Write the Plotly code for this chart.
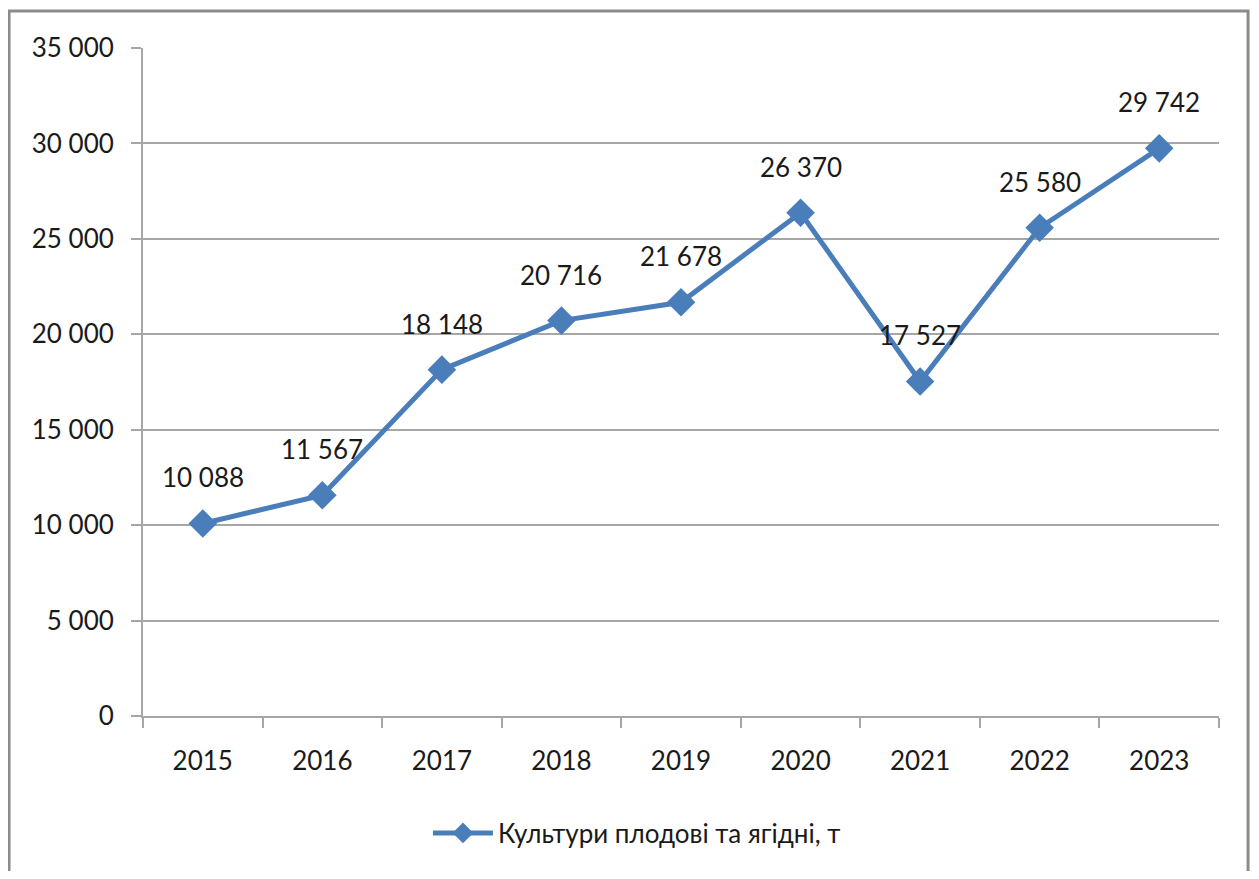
import plotly.graph_objects as go

years = ['2015', '2016', '2017', '2018', '2019', '2020', '2021', '2022', '2023']
values = [10088, 11567, 18148, 20716, 21678, 26370, 17527, 25580, 29742]
y_ticks = [0, 5000, 10000, 15000, 20000, 25000, 30000, 35000]
series_name = 'Культури плодові та ягідні, т'

BLUE = '#4A7EBB'
GRID = '#a6a6a6'
TEXT = '#1a1a1a'
FONT = 'Lato'


def fmt(v):
    # thousands separated with a space, like the source
    return f'{v:,}'.replace(',', ' ')


fig = go.Figure()
fig.add_trace(go.Scatter(
    x=years,
    y=values,
    mode='lines+markers',
    name=series_name,
    line=dict(color=BLUE, width=5),
    marker=dict(symbol='diamond', size=22, color=BLUE),
))

# value labels above each point (category index on the x axis)
for i, v in enumerate(values):
    fig.add_annotation(
        x=i, y=v, text=fmt(v), showarrow=False,
        yshift=46, font=dict(size=26, color=TEXT, family=FONT),
    )

# outer chart border
fig.add_shape(
    type='rect', xref='paper', yref='paper',
    x0=-0.1245, x1=1.0270, y0=-0.2425, y1=1.0554,
    line=dict(color='#8c8c8c', width=3), layer='below',
)

# the page body adds an 8px margin all round, so keep the figure inside it
fig.update_layout(
    width=1243, height=863,
    paper_bgcolor='white', plot_bgcolor='white',
    font=dict(family=FONT, size=26, color=TEXT),
    margin=dict(l=135, r=32, t=40, b=155),
    showlegend=True,
    legend=dict(
        orientation='h', xref='container', yref='container',
        x=0.506, y=0.044, xanchor='center', yanchor='middle',
        font=dict(size=26, color=TEXT, family=FONT),
        itemwidth=60,
    ),
    xaxis=dict(
        type='category',
        categoryorder='array', categoryarray=years,
        range=[-0.5, len(years) - 0.5],
        showline=True, linecolor=GRID, linewidth=2,
        showgrid=False,
        ticks='outside', ticklen=10, tickcolor=GRID, tickwidth=2,
        tickson='boundaries',
        ticklabelstandoff=21,
        tickangle=0,
        tickfont=dict(size=26, color=TEXT, family=FONT),
    ),
    yaxis=dict(
        range=[0, 35000],
        tickvals=y_ticks,
        ticktext=[fmt(t) for t in y_ticks],
        showline=True, linecolor=GRID, linewidth=2,
        showgrid=True, gridcolor=GRID, gridwidth=2,
        zeroline=False,
        ticks='outside', ticklen=10, tickcolor=GRID, tickwidth=2,
        ticklabelstandoff=12,
        tickfont=dict(size=26, color=TEXT, family=FONT),
    ),
)

fig.write_html('out.html')
